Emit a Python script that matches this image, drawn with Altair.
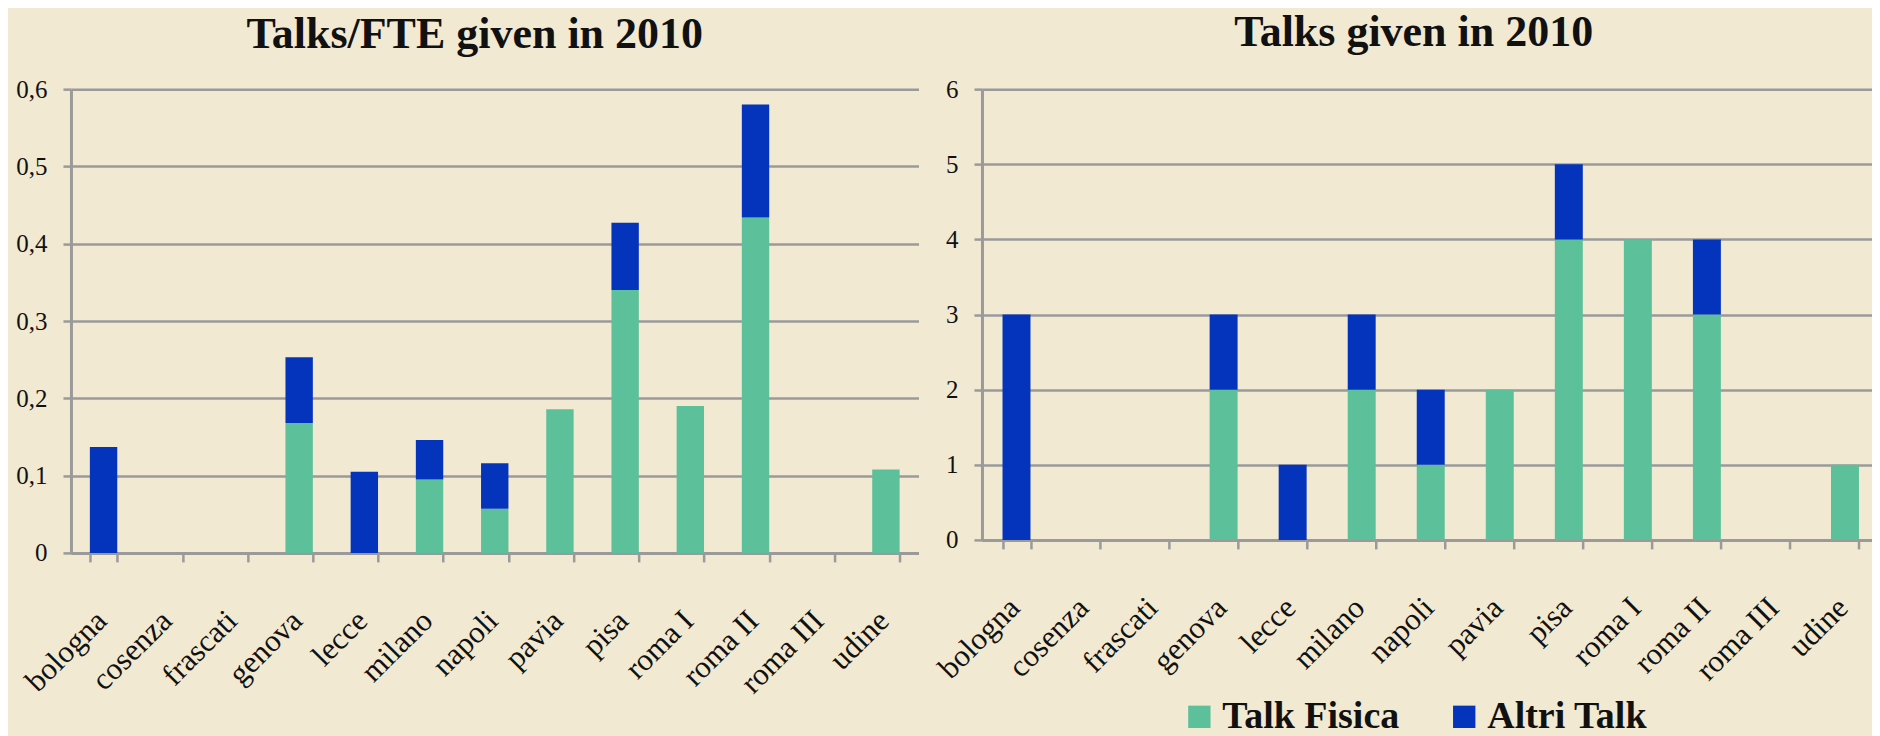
import altair as alt
import pandas as pd

categories = ["bologna", "cosenza", "frascati", "genova", "lecce", "milano", "napoli",
              "pavia", "pisa", "roma I", "roma II", "roma III", "udine"]
series = ["Talk Fisica", "Altri Talk"]

# Talks / FTE (left panel)
fte_fisica = [0, 0, 0, 0.168, 0, 0.095, 0.057, 0.186, 0.340, 0.190, 0.434, 0, 0.108]
fte_altri = [0.137, 0, 0, 0.085, 0.105, 0.051, 0.059, 0, 0.087, 0, 0.146, 0, 0]

# Talks given (right panel)
talks_fisica = [0, 0, 0, 2, 0, 2, 1, 2, 4, 4, 3, 0, 1]
talks_altri = [3, 0, 0, 1, 1, 1, 1, 0, 1, 0, 1, 0, 0]

fte_ticks = [0, 0.1, 0.2, 0.3, 0.4, 0.5, 0.6]
talk_ticks = [0, 1, 2, 3, 4, 5, 6]

title_left = "Talks/FTE given in 2010"
title_right = "Talks given in 2010"

colors = ["#5CC09A", "#0434BC"]
BG = "#F1E9D2"
GRAY = "#9A9A9A"
FONT = "Liberation Serif"
INK = "#111111"


def long_table(fis, oth):
    rows = []
    for c, f, a in zip(categories, fis, oth):
        rows.append({"sede": c, "serie": series[0], "valore": f, "ordine": 0})
        rows.append({"sede": c, "serie": series[1], "valore": a, "ordine": 1})
    return pd.DataFrame(rows)


color_enc = alt.Color(
    "serie:N",
    scale=alt.Scale(domain=series, range=colors),
    legend=alt.Legend(
        title=None, orient="none", legendX=1110, legendY=609,
        direction="horizontal", symbolType="square", symbolSize=500,
        symbolStrokeWidth=0, symbolOpacity=1,
        labelFont=FONT, labelFontSize=38, labelFontWeight="bold", labelColor=INK,
        labelOffset=4, columnPadding=45, padding=0, labelLimit=0,
    ),
)


def panel(df, ticks, ymax, title, width, height, pad_inner, dx, offset, fmt_expr):
    yaxis_kw = dict(
        title=None, values=ticks, grid=True, gridColor=GRAY, gridWidth=2.5,
        tickSize=8, tickWidth=2.5, tickColor=GRAY, domainColor=GRAY, domainWidth=3,
        labelFont=FONT, labelFontSize=25, labelColor=INK, labelPadding=16,
    )
    if fmt_expr:
        yaxis_kw.update(format=".1~f", labelExpr="replace(datum.label, '.', ',')")
    return alt.Chart(df).mark_bar().encode(
        x=alt.X(
            "sede:N", sort=categories,
            scale=alt.Scale(domain=categories, paddingInner=pad_inner, paddingOuter=pad_inner / 2),
            axis=alt.Axis(
                title=None, labelAngle=-45, labelAlign="right", labelBaseline="middle",
                labelFont=FONT, labelFontSize=31, labelColor=INK, labelPadding=54, labelOffset=-2,
                tickBand="extent", tickSize=9, tickWidth=2.5, tickColor=GRAY,
                domainColor=GRAY, domainWidth=3, grid=False,
            ),
        ),
        y=alt.Y("valore:Q", stack="zero",
                scale=alt.Scale(domain=[0, ymax], nice=False),
                axis=alt.Axis(**yaxis_kw)),
        color=color_enc,
        order=alt.Order("ordine:Q"),
    ).properties(
        width=width, height=height,
        title=alt.TitleParams(
            title, font=FONT, fontSize=44, fontWeight="bold", color=INK,
            anchor="middle", frame="group", dx=dx, offset=offset,
        ),
    )


left = panel(long_table(fte_fisica, fte_altri), fte_ticks, 0.6, title_left,
             848, 464, 0.58, -20, 20, True)
right = panel(long_table(talks_fisica, talks_altri), talk_ticks, 6, title_right,
              898, 451, 0.595, -17, 22, False)

chart = alt.hconcat(left, right, spacing=63.5, bounds="flush").properties(
    padding={"top": 3, "bottom": 0, "left": 7, "right": -8},
).configure(background=BG, font=FONT).configure_view(stroke=None)

chart.save("out.html", embed_options={"renderer": "svg", "actions": False})
